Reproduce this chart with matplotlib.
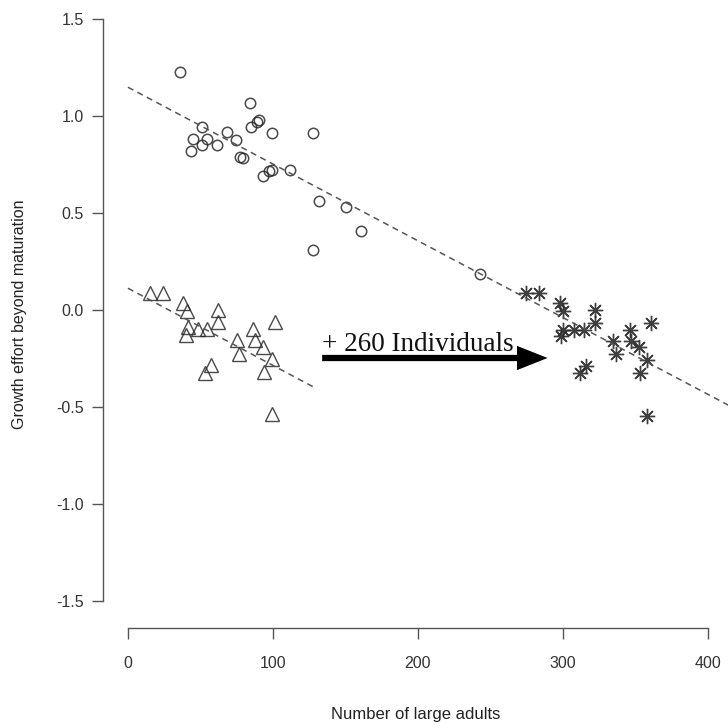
import numpy as np
import matplotlib.pyplot as plt
from matplotlib.patches import FancyArrowPatch

# circles: before the 260 individuals were added (upper group)
circ_x = [35.9, 84.1, 90.3, 89.0, 84.8, 51.3, 68.5, 99.5, 127.4, 45.1, 54.7, 74.5,
          50.8, 61.6, 43.4, 77.2, 79.5, 99.5, 97.5, 111.7, 92.9, 131.9, 127.4,
          150.3, 160.5, 242.8]
circ_y = [1.23, 1.07, 0.98, 0.97, 0.945, 0.945, 0.92, 0.915, 0.915, 0.885, 0.885, 0.88,
          0.85, 0.85, 0.82, 0.79, 0.785, 0.725, 0.72, 0.725, 0.69, 0.565, 0.31,
          0.53, 0.41, 0.185]

# triangles: lower group
tri_x = [15.2, 23.9, 38.2, 40.9, 62.3, 62.3, 101.4, 41.6, 48.5, 54.7, 40.0, 86.4,
         75.4, 87.6, 92.9, 76.8, 99.1, 57.0, 53.1, 94.0, 99.1]
tri_y = [0.09, 0.09, 0.035, -0.005, 0.0, -0.06, -0.06, -0.085, -0.095, -0.095, -0.13, -0.095,
         -0.155, -0.155, -0.19, -0.225, -0.25, -0.285, -0.325, -0.32, -0.535]

# asterisks: lower group after adding 260 individuals
star_x = [274.5, 283.4, 298.4, 300.2, 322.1, 322.1, 360.7, 300.2, 307.8, 314.5, 346.2,
          299.1, 334.7, 347.4, 352.6, 337.0, 358.1, 316.3, 312.2, 353.6, 358.4]
star_y = [0.09, 0.09, 0.035, -0.005, 0.0, -0.065, -0.065, -0.10, -0.10, -0.10, -0.10,
          -0.135, -0.16, -0.16, -0.19, -0.225, -0.255, -0.29, -0.325, -0.325, -0.545]

# fitted lines (intercept, slope, x range)
fit_upper = (1.15, -0.00396, 0, 430)
fit_lower = (0.113, -0.00398, 0, 129)

x_ticks = [0, 100, 200, 300, 400]
y_ticks = [-1.5, -1.0, -0.5, 0.0, 0.5, 1.0, 1.5]

plt.rcParams['font.family'] = ['Liberation Sans', 'DejaVu Sans']

fig = plt.figure(figsize=(7.28, 7.28), dpi=100)
ax = fig.add_axes([103 / 728, 1 - 628 / 728, 1 - 103 / 728, 628 / 728])
ax.set_xlim(-17.2, 414)
ax.set_ylim(-1.64, 1.6)

mk = '#2a2a2a'
ax.plot(circ_x, circ_y, 'o', mfc='none', mec=mk, ms=7.5, mew=1.1, alpha=0.85)
ax.plot(tri_x, tri_y, '^', mfc='none', mec=mk, ms=9.5, mew=1.0, alpha=0.85)
ax.plot(star_x, star_y, ls='none', marker=(8, 2, 0), mec=mk, ms=11, mew=1.0, alpha=0.9)

for a, b, x0, x1 in [fit_upper, fit_lower]:
    xs = np.array([x0, x1])
    ax.plot(xs, a + b * xs, ls=(0, (4, 3)), color='#555555', lw=1.1)

arrow = FancyArrowPatch((134, -0.247), (289.5, -0.247),
                        arrowstyle='simple,head_length=2.2,head_width=1.75,tail_width=0.45',
                        mutation_scale=10, color='black', lw=0,
                        shrinkA=0, shrinkB=0)
ax.add_patch(arrow)
ax.text(134, -0.21, '+ 260 Individuals', family=['Liberation Serif', 'DejaVu Serif'],
        fontsize=19.5, va='baseline', ha='left', color='#111111')

for s in ['top', 'right']:
    ax.spines[s].set_visible(False)
ax.spines['left'].set_bounds(-1.5, 1.5)
ax.spines['bottom'].set_bounds(0, 400)
for s in ['left', 'bottom']:
    ax.spines[s].set_color('#555555')
    ax.spines[s].set_linewidth(1.0)

ax.set_xticks(x_ticks)
ax.set_yticks(y_ticks)
ax.set_yticklabels([f'{v:.1f}' for v in y_ticks])
ax.tick_params(length=8, width=1.0, color='#555555', labelcolor='#333333',
               labelsize=11.5)
ax.tick_params(axis='x', pad=12)
ax.tick_params(axis='y', pad=6)

ax.set_xlabel('Number of large adults', fontsize=12, color='#222222', labelpad=26)
ax.set_ylabel('Growth effort beyond maturation', fontsize=11.5, color='#222222', labelpad=21)

fig.savefig('out.png', dpi=100)
